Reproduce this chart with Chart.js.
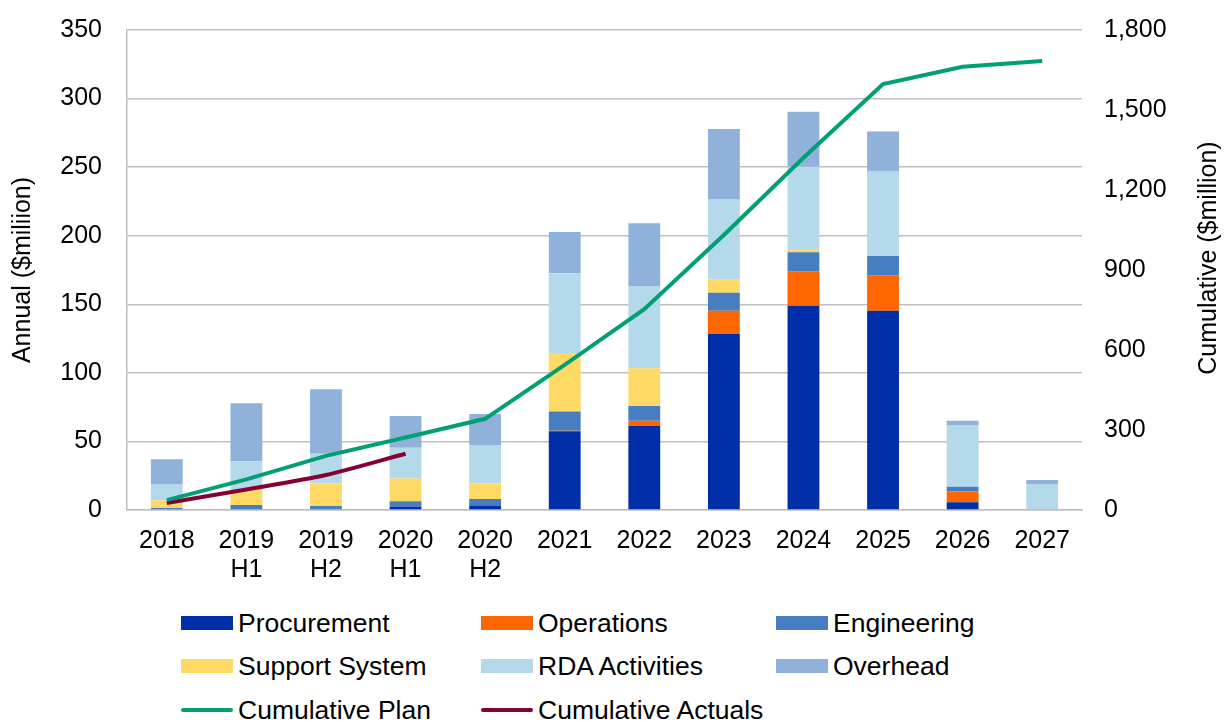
<!DOCTYPE html>
<html>
<head>
<meta charset="utf-8">
<script src="https://cdn.jsdelivr.net/npm/chart.js@4"></script>
<style>
  body { margin: 0; background: #fff; }
  #wrap { position: relative; width: 1224px; height: 722px; font-family: "Liberation Sans", Arial, sans-serif; }
  #chart { position: absolute; left: 0; top: 0; }
  .item { position: absolute; height: 30px; line-height: 30px; font-size: 26.5px; color: #000; white-space: nowrap; }
  .sw { position: absolute; left: 0; top: 8px; width: 52px; height: 14px; }
  .ln { position: absolute; left: 0; top: 13px; width: 52px; height: 4px; border-radius: 2px; }
  .lbl { position: absolute; left: 57px; top: 0; }
</style>
</head>
<body>
<div id="wrap">
  <canvas id="chart" width="1224" height="600"></canvas>
  <div id="legend"></div>
</div>
<script>
// Categories and values
const categories = ["2018", ["2019", "H1"], ["2019", "H2"], ["2020", "H1"], ["2020", "H2"],
    "2021", "2022", "2023", "2024", "2025", "2026", "2027"];

const procurement = [0, 0, 0, 2.4, 3.2, 57.5, 61.5, 128.3, 149, 145.3, 5.6, 0];
const operations = [0, 0, 0, 0, 0, 0.3, 3.6, 17, 25, 25.8, 7.8, 0];
const engineering = [1.5, 3.6, 2.9, 3.9, 4.8, 14, 10.7, 13.2, 13.9, 14.1, 3.6, 0];
const supportSystem = [5.5, 11, 16.5, 16.6, 11.4, 42.6, 27.5, 9.7, 2.4, 0, 0, 0];
const rdaActivities = [12, 21, 21.6, 22.5, 28, 58.3, 59.6, 58.6, 60, 62, 45, 19];
const overhead = [18, 42.3, 47, 23.1, 22.6, 30, 46.1, 51, 40.1, 28.7, 3, 2.9];

const cumulativePlan = [37, 115, 203, 272, 342, 544, 753, 1031, 1321, 1597, 1662, 1684];
const cumulativeActuals = [26, 77, 131, 211, null, null, null, null, null, null, null, null];

const leftTicks = [0, 50, 100, 150, 200, 250, 300, 350];
const rightTicks = [0, 300, 600, 900, 1200, 1500, 1800];

const FONT = "'Liberation Sans', Arial, sans-serif";
const gridGrey = "#BFBFBF";

function bar(label, data, color) {
    return { type: "bar", label: label, data: data, backgroundColor: color, borderWidth: 0, order: 2, yAxisID: "y" };
}

// Axis titles drawn bottom-to-top on both sides
const axisTitles = {
    id: "axisTitles",
    afterDraw(chart) {
        const c = chart.ctx;
        [["Annual ($miliion)", 23, 270], ["Cumulative ($million)", 1209, 258]].forEach(function (t) {
            c.save();
            c.font = "25px " + FONT;
            c.fillStyle = "#000";
            c.textAlign = "center";
            c.textBaseline = "middle";
            c.translate(t[1], t[2]);
            c.rotate(-Math.PI / 2);
            c.fillText(t[0], 0, 0);
            c.restore();
        });
    }
};

const ctx = document.getElementById("chart").getContext("2d");
const chart = new Chart(ctx, {
    data: {
        labels: categories,
        datasets: [
            {
                type: "line", label: "Cumulative Plan", data: cumulativePlan, yAxisID: "y2",
                borderColor: "#00A074", backgroundColor: "#00A074", borderWidth: 4,
                pointRadius: 0, tension: 0, order: 0
            },
            {
                type: "line", label: "Cumulative Actuals", data: cumulativeActuals, yAxisID: "y2",
                borderColor: "#850035", backgroundColor: "#850035", borderWidth: 4,
                pointRadius: 0, tension: 0.25, order: 1
            },
            bar("Procurement", procurement, "#002DA8"),
            bar("Operations", operations, "#FF6600"),
            bar("Engineering", engineering, "#467EC1"),
            bar("Support System", supportSystem, "#FFD966"),
            bar("RDA Activities", rdaActivities, "#B4D9EB"),
            bar("Overhead", overhead, "#8FB1DA")
        ]
    },
    options: {
        responsive: false,
        animation: false,
        layout: { padding: { top: 30, left: 0, right: 0, bottom: 0 } },
        datasets: { bar: { barPercentage: 1, categoryPercentage: 0.4 } },
        plugins: { legend: { display: false }, tooltip: { enabled: false } },
        scales: {
            x: {
                stacked: true,
                grid: { display: false, drawTicks: false },
                border: { display: true, color: gridGrey, width: 1.5 },
                ticks: { color: "#000", font: { family: FONT, size: 25, lineHeight: 1.18 }, padding: 16, maxRotation: 0 },
                afterFit(scale) { scale.height = 90; scale.paddingLeft = 0; scale.paddingRight = 0; }
            },
            y: {
                stacked: true,
                position: "left",
                min: 0, max: 350,
                afterBuildTicks(scale) { scale.ticks = leftTicks.map(v => ({ value: v })); },
                grid: { color: gridGrey, lineWidth: 1.5, drawTicks: false },
                border: { display: true, color: gridGrey, width: 1.5 },
                ticks: { color: "#000", font: { family: FONT, size: 25 }, padding: 25 },
                afterFit(scale) { scale.width = 127; scale.paddingTop = 0; scale.paddingBottom = 0; }
            },
            y2: {
                position: "right",
                min: 0, max: 1800,
                afterBuildTicks(scale) { scale.ticks = rightTicks.map(v => ({ value: v })); },
                grid: { display: false, drawTicks: false },
                border: { display: false },
                ticks: {
                    color: "#000", font: { family: FONT, size: 25 }, padding: 22,
                    callback: v => v.toLocaleString("en-US")
                },
                afterFit(scale) { scale.width = 142; scale.paddingTop = 0; scale.paddingBottom = 0; }
            }
        }
    },
    plugins: [axisTitles]
});

// HTML legend in three columns
const legendItems = [
    { label: "Procurement", color: "#002DA8", kind: "box", x: 181, y: 608 },
    { label: "Operations", color: "#FF6600", kind: "box", x: 481, y: 608 },
    { label: "Engineering", color: "#467EC1", kind: "box", x: 776, y: 608 },
    { label: "Support System", color: "#FFD966", kind: "box", x: 181, y: 651 },
    { label: "RDA Activities", color: "#B4D9EB", kind: "box", x: 481, y: 651 },
    { label: "Overhead", color: "#8FB1DA", kind: "box", x: 776, y: 651 },
    { label: "Cumulative Plan", color: "#00A074", kind: "line", x: 181, y: 695 },
    { label: "Cumulative Actuals", color: "#850035", kind: "line", x: 481, y: 695 }
];
const legend = document.getElementById("legend");
legendItems.forEach(function (it) {
    const d = document.createElement("div");
    d.className = "item";
    d.style.left = it.x + "px";
    d.style.top = it.y + "px";
    d.innerHTML = '<span class="' + (it.kind === "box" ? "sw" : "ln") + '" style="background:' + it.color +
        '"></span><span class="lbl">' + it.label + '</span>';
    legend.appendChild(d);
});
</script>
</body>
</html>
